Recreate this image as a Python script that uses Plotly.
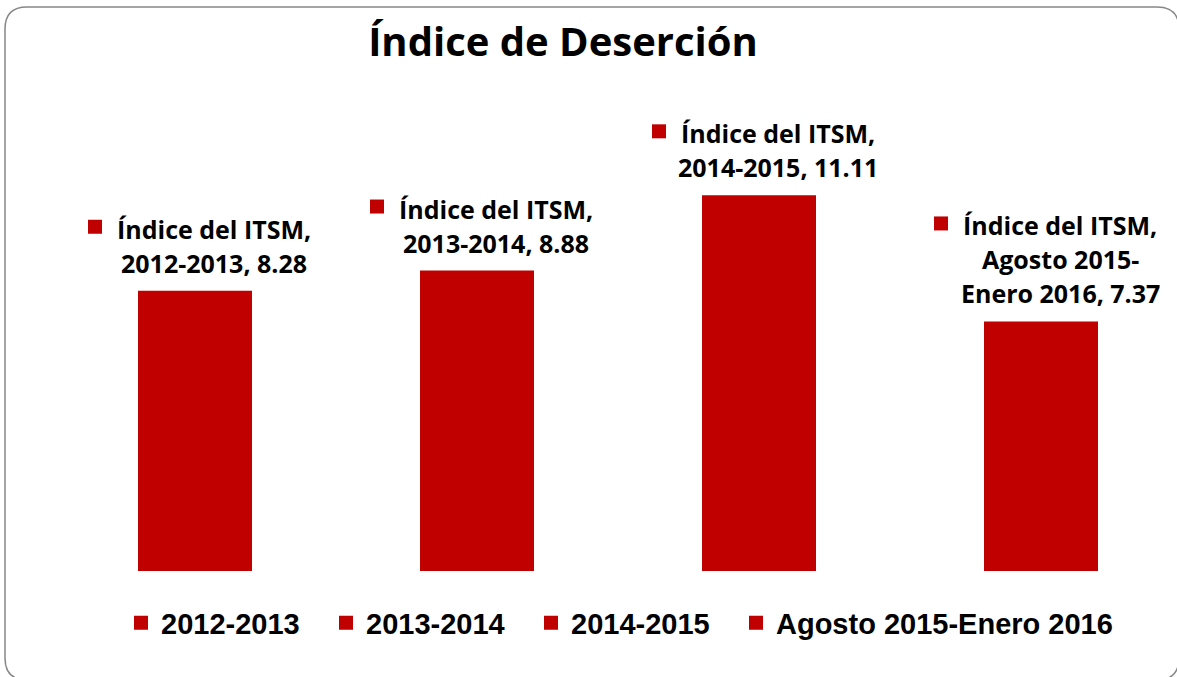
import plotly.graph_objects as go

# ---- data ----
series = ["2012-2013", "2013-2014", "2014-2015", "Agosto 2015-Enero 2016"]
values = [8.28, 8.88, 11.11, 7.37]
label_prefix = "Índice del ITSM,"
# how each data label's text wraps (series name part)
label_lines = [
    ["2012-2013, 8.28"],
    ["2013-2014, 8.88"],
    ["2014-2015, 11.11"],
    ["Agosto 2015-", "Enero 2016, 7.37"],
]
title_text = "Índice de Deserción"

RED = "#C00000"
W, H = 1177, 677
Y_MAX = 14.5
UNIT_PX = 33.75
BASE_Y = 571
ML, MR, MB = 54, 0, H - BASE_Y
MT = int(round(BASE_Y - Y_MAX * UNIT_PX))
PW, PH = W - ML - MR, H - MT - MB
CAT_PX = 282.0
LW = 2

def px(xp):
    return (xp - ML) / PW
def py(yp):
    return (H - MB - yp) / PH

fig = go.Figure()
for i, (s, v) in enumerate(zip(series, values)):
    fig.add_trace(go.Bar(x=[i], y=[v], name=s, marker_color=RED,
                         marker_line=dict(width=LW, color=RED),
                         legend="legend" if i < 3 else "legend2",
                         hoverinfo="skip"))

# data labels
LINE_GAP = 34
BASE_GAP = 29
LABEL_FONT = dict(family="Open Sans", size=25, color="black", weight="bold")
annotations = []
shapes = []
for i, v in enumerate(values):
    lines = [label_prefix] + label_lines[i]
    n = len(lines)
    for k, txt in enumerate(lines):
        annotations.append(dict(
            x=i, y=v, xref="x", yref="y", text=txt, showarrow=False,
            xanchor="center", yanchor="middle", xshift=19,
            yshift=BASE_GAP + (n - 1 - k) * LINE_GAP, font=LABEL_FONT))
    ys = BASE_GAP + (n - 1) * LINE_GAP + 2
    shapes.append(dict(type="rect", xref="x", yref="y",
                       xsizemode="pixel", ysizemode="pixel",
                       xanchor=i, yanchor=v,
                       x0=-107, x1=-93, y0=ys - 7, y1=ys + 7,
                       fillcolor=RED, line_width=0))

# rounded border
L, T, R, B, r = 5, 7, 1179, 680, 22
path = (f"M {px(L + r)},{py(T)} L {px(R - r)},{py(T)} "
        f"Q {px(R)},{py(T)} {px(R)},{py(T + r)} "
        f"L {px(R)},{py(B - r)} Q {px(R)},{py(B)} {px(R - r)},{py(B)} "
        f"L {px(L + r)},{py(B)} Q {px(L)},{py(B)} {px(L)},{py(B - r)} "
        f"L {px(L)},{py(T + r)} Q {px(L)},{py(T)} {px(L + r)},{py(T)} Z")
shapes.append(dict(type="path", xref="paper", yref="paper", path=path,
                   line=dict(color="#878787", width=1.5), layer="below"))

LEG_FONT = dict(family="Liberation Sans", size=29, color="black", weight="bold")

fig.update_layout(
    width=W, height=H,
    margin=dict(l=ML, r=MR, t=MT, b=MB, autoexpand=False),
    paper_bgcolor="white", plot_bgcolor="white",
    barmode="relative", bargap=1 - (114 - LW) / CAT_PX,
    title=dict(text=title_text, x=563 / W, xref="container", xanchor="center",
               y=1 - 42 / H, yref="container", yanchor="middle",
               font=dict(family="Open Sans", size=40, color="black",
                         weight="bold")),
    xaxis=dict(range=[-0.5, -0.5 + PW / CAT_PX], showticklabels=False,
               showgrid=False, zeroline=False, showline=False, ticks=""),
    yaxis=dict(range=[0, Y_MAX], showticklabels=False, showgrid=False,
               zeroline=False, showline=False, ticks=""),
    showlegend=True,
    legend=dict(orientation="h", x=px(121), xanchor="left",
                y=py(623), yanchor="middle",
                entrywidth=160, entrywidthmode="pixels",
                font=LEG_FONT, itemclick=False, itemdoubleclick=False),
    legend2=dict(orientation="h", x=px(736), xanchor="left",
                 y=py(623), yanchor="middle",
                 font=LEG_FONT, itemclick=False, itemdoubleclick=False),
    annotations=annotations, shapes=shapes,
)

fig.write_html("out.html", config={"displayModeBar": False},
               post_script="document.body.style.margin='0';")
